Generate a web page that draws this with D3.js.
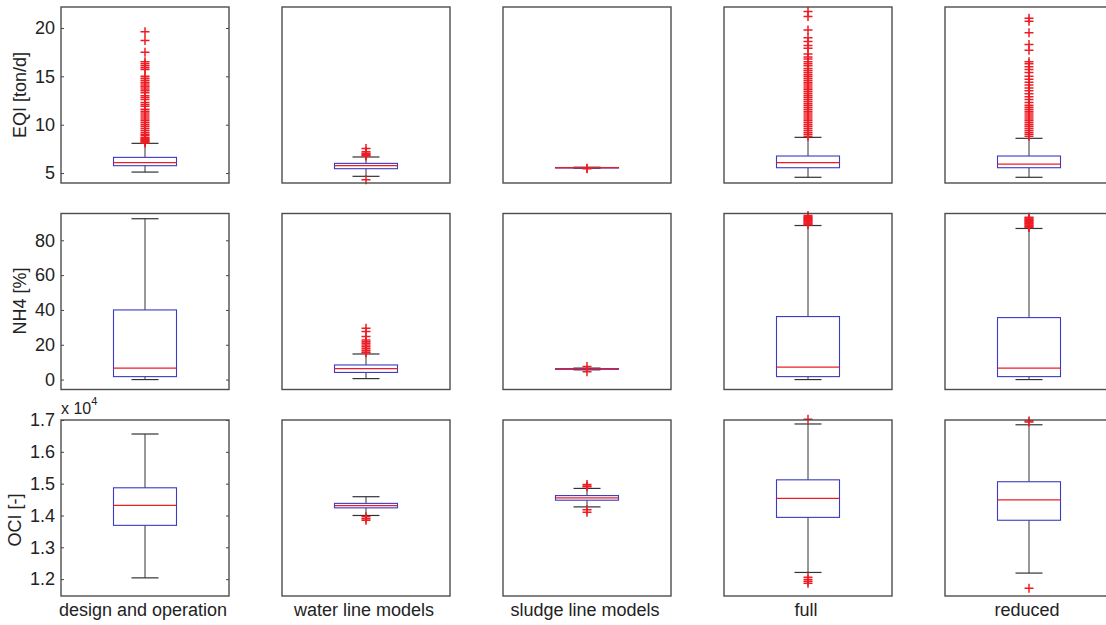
<!DOCTYPE html>
<html lang="en">
<head>
    <script src="https://d3js.org/d3.v7.min.js"></script>
    <style>
        body { margin: 0; background: white; }
        text { font-family: "Liberation Sans", Arial, sans-serif; fill: #222; }
    </style>
</head>
<body>
<div id="chart"></div>
<script>
    // groups (columns) and metrics (rows)
    const groups = ["design and operation", "water line models", "sludge line models", "full", "reduced"]
    const metrics = ["EQI [ton/d]", "NH4 [%]", "OCI [-]"]

    // box stats per group: [lower whisker, q1, median, q3, upper whisker]
    const eqiStats = [
        [5.1, 5.76, 6.07, 6.62, 8.07],
        [4.66, 5.45, 5.76, 6.0, 6.66],
        [5.5, 5.53, 5.55, 5.57, 5.6],
        [4.56, 5.55, 6.07, 6.76, 8.69],
        [4.56, 5.55, 5.93, 6.76, 8.59]
    ]
    const nh4Stats = [
        [0, 1.7, 6.6, 40.0, 92.4],
        [0.56, 4.1, 6.3, 8.4, 14.7],
        [5.6, 5.9, 6.1, 6.3, 6.6],
        [0, 1.7, 7.2, 36.2, 88.5],
        [0, 1.7, 6.6, 35.6, 86.8]
    ]
    const ociStats = [
        [12040, 13690, 14320, 14870, 16560],
        [14000, 14240, 14310, 14380, 14590],
        [14270, 14480, 14550, 14625, 14850],
        [12210, 13940, 14540, 15120, 16875],
        [12190, 13850, 14490, 15060, 16850]
    ]

    // outliers per group
    const eqiOutliers = [
        [19.6, 18.7, 17.5, 16.5, 16.3, 16.1, 15.9, 15.7, 15.0, 14.8, 14.6, 14.4, 14.2, 14.0, 13.9, 13.7, 13.5, 13.3,
         13.0, 12.8, 12.6, 12.3, 12.1, 11.9, 11.6, 11.4, 11.2, 11.0, 10.8, 10.6, 10.4, 10.2, 10.0, 9.8, 9.6, 9.4,
         9.2, 9.0, 8.9, 8.7, 8.6, 8.5, 8.4, 8.3, 8.2, 8.1],
        [7.55, 7.2, 7.05, 6.95, 6.85, 6.75, 4.3],
        [5.45, 5.5],
        [21.7, 21.2, 19.8, 19.0, 18.6, 18.2, 17.9, 17.3, 17.0, 16.8, 16.5, 16.3, 16.1, 15.8, 15.6, 15.4, 15.2, 15.0,
         14.8, 14.6, 14.4, 14.2, 14.0, 13.8, 13.6, 13.4, 13.2, 13.0, 12.8, 12.6, 12.4, 12.2, 12.0, 11.8, 11.6, 11.4,
         11.2, 11.0, 10.8, 10.6, 10.4, 10.2, 10.0, 9.8, 9.6, 9.4, 9.2, 9.0, 8.8],
        [21.0, 20.7, 19.5, 18.3, 17.7, 16.5, 16.3, 16.0, 15.7, 15.4, 15.0, 14.7, 14.4, 14.1, 13.8, 13.5, 13.2, 12.9,
         12.6, 12.3, 12.0, 11.8, 11.6, 11.4, 11.2, 11.0, 10.8, 10.6, 10.4, 10.2, 10.0, 9.8, 9.6, 9.4, 9.2, 9.0, 8.8]
    ]
    const nh4Outliers = [
        [],
        [29.5, 27.6, 24.7, 22.8, 21.8, 20.8, 19.8, 18.8, 17.8, 16.8, 15.8, 15.4],
        [7.5, 4.5],
        [94.3, 93.5, 93.0, 92.5, 92.0, 91.5, 91.0, 90.5, 90.0, 89.5, 89.0],
        [93.3, 92.8, 92.3, 91.8, 91.3, 90.8, 90.3, 89.8, 89.3, 88.8, 88.3, 87.8, 87.3]
    ]
    const ociOutliers = [
        [],
        [13960, 13900, 13850],
        [14970, 14930, 14900, 14180, 14100],
        [17020, 12060, 11990, 11930, 11870],
        [16970, 16940, 11710]
    ]

    // axis limits and ticks per metric
    const eqiDomain = [3.97, 22.17]
    const nh4Domain = [-5.7, 95.4]
    const ociDomain = [11470, 17000]
    const eqiTicks = [5, 10, 15, 20]
    const nh4Ticks = [0, 20, 40, 60, 80]
    const ociTicks = [12000, 13000, 14000, 15000, 16000, 17000]

    const rows = [
        {label: metrics[0], stats: eqiStats, outliers: eqiOutliers, domain: eqiDomain, ticks: eqiTicks, fmt: d => d, labelY: 95, labelX: 26},
        {label: metrics[1], stats: nh4Stats, outliers: nh4Outliers, domain: nh4Domain, ticks: nh4Ticks, fmt: d => d, labelY: 301, labelX: 26},
        {label: metrics[2], stats: ociStats, outliers: ociOutliers, domain: ociDomain, ticks: ociTicks, fmt: d => (d / 1e4).toFixed(1), labelY: 520, labelX: 21}
    ]

    const width = 1106
    const height = 625
    const panelW = 168
    const panelH = 176
    const colLeft = d3.scaleLinear().domain([0, 1]).range([61, 282])
    const rowTop = d3.scaleLinear().domain([0, 1]).range([7, 213.5])
    const boxW = 63
    const capW = 27
    const mk = 4.5

    const svg = d3.select("#chart").append("svg")
        .attr("width", width)
        .attr("height", height)

    rows.forEach((row, r) => {
        const top = rowTop(r)
        const y = d3.scaleLinear().domain(row.domain).range([top + panelH, top])

        groups.forEach((g, c) => {
            const left = colLeft(c)
            const x = d3.scaleLinear().domain([0.5, 1.5]).range([left, left + panelW])
            const cx = x(1)
            const s = row.stats[c]
            const panel = svg.append("g")

            if (c === 0) {
                const yAxis = d3.axisLeft(y).tickValues(row.ticks).tickFormat(row.fmt)
                    .tickSizeInner(-3).tickSizeOuter(0).tickPadding(6)
                const ga = panel.append("g")
                    .attr("transform", "translate(" + left + ",0)")
                    .call(yAxis)
                ga.select(".domain").remove()
                ga.selectAll("line").attr("stroke", "#444")
                ga.selectAll("text").style("font-size", "18px").attr("fill", "#222")
                    .style("font-family", "'Liberation Sans', Arial, sans-serif")

                const gr = panel.append("g")
                    .attr("transform", "translate(" + (left + panelW) + ",0)")
                    .call(d3.axisRight(y).tickValues(row.ticks).tickFormat("").tickSizeInner(-3).tickSizeOuter(0))
                gr.select(".domain").remove()
                gr.selectAll("line").attr("stroke", "#444")

                svg.append("text")
                    .attr("transform", "translate(" + row.labelX + "," + row.labelY + ") rotate(-90)")
                    .style("text-anchor", "middle")
                    .style("font-size", "18px")
                    .text(row.label)
            }

            // whiskers
            panel.append("line")
                .attr("x1", cx).attr("x2", cx)
                .attr("y1", y(s[3])).attr("y2", y(s[4]))
                .attr("stroke", "#333").attr("stroke-width", 1)
            panel.append("line")
                .attr("x1", cx).attr("x2", cx)
                .attr("y1", y(s[1])).attr("y2", y(s[0]))
                .attr("stroke", "#333").attr("stroke-width", 1)
            panel.selectAll("line.cap")
                .data([s[0], s[4]])
                .join("line")
                .attr("class", "cap")
                .attr("x1", cx - capW / 2).attr("x2", cx + capW / 2)
                .attr("y1", d => y(d)).attr("y2", d => y(d))
                .attr("stroke", "#333").attr("stroke-width", 1.2)

            // box
            panel.append("rect")
                .attr("x", cx - boxW / 2)
                .attr("width", boxW)
                .attr("y", y(s[3]))
                .attr("height", Math.max(y(s[1]) - y(s[3]), 0.5))
                .attr("fill", "none")
                .attr("stroke", "#3a3ac4")
                .attr("stroke-width", 1.1)

            // median
            panel.append("line")
                .attr("x1", cx - boxW / 2).attr("x2", cx + boxW / 2)
                .attr("y1", y(s[2])).attr("y2", y(s[2]))
                .attr("stroke", "#ee1c24").attr("stroke-width", 1.2)

            // outliers
            panel.selectAll("path.out")
                .data(row.outliers[c])
                .join("path")
                .attr("class", "out")
                .attr("d", d => "M" + (cx - mk) + "," + y(d) + "H" + (cx + mk) + "M" + cx + "," + (y(d) - mk) + "V" + (y(d) + mk))
                .attr("stroke", "#ee1c24")
                .attr("stroke-width", 1.5)
                .attr("fill", "none")

            // frame
            panel.append("rect")
                .attr("x", left).attr("y", top)
                .attr("width", panelW).attr("height", panelH)
                .attr("fill", "none")
                .attr("stroke", "#4d4d4d")
                .attr("stroke-width", 1.4)

            if (r === rows.length - 1) {
                svg.append("text")
                    .attr("x", cx - 2)
                    .attr("y", top + panelH + 20)
                    .style("text-anchor", "middle")
                    .style("font-size", "18px")
                    .text(g)
            }
        })
    })

    // exponent label above the OCI axis
    const expText = svg.append("text")
        .attr("x", 61)
        .attr("y", rowTop(2) - 6)
        .style("font-size", "16px")
    expText.append("tspan").text("x 10")
    expText.append("tspan").attr("dy", -9).style("font-size", "11px").text("4")
</script>
</body>
</html>
